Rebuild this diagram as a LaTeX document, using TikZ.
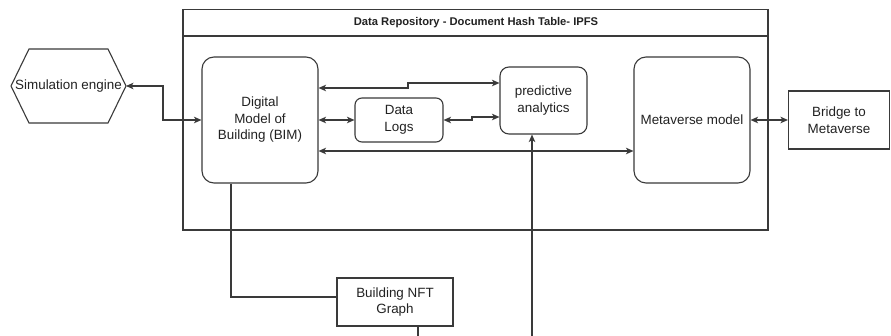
\documentclass[tikz,border=0pt]{standalone}
\usepackage{fontspec}
\setmainfont{Liberation Sans}
\usetikzlibrary{arrows.meta}
\definecolor{ln}{HTML}{3A3A3A}
\definecolor{tx}{HTML}{222222}
\tikzset{
  box/.style={draw=ln, line width=1.1pt, text=tx, align=center, inner sep=2pt,
    font=\fontsize{13.4pt}{16.5pt}\selectfont},
  rbox/.style={box, rounded corners=12pt},
  lbl/.style={text=tx, align=center, inner sep=0pt,
    font=\fontsize{13.4pt}{16.5pt}\selectfont},
  conn/.style={draw=ln, line width=1.1pt},
  both/.style={conn, {Stealth[length=7.5pt,width=6.5pt,inset=2pt]}-{Stealth[length=7.5pt,width=6.5pt,inset=2pt]}},
  one/.style={conn, -{Stealth[length=7.5pt,width=6.5pt,inset=2pt]}}
}
\begin{document}
\begin{tikzpicture}[x=1pt,y=-1pt]
\useasboundingbox[fill=white] (0,0) rectangle (891,336);

% container
\node[draw=ln, line width=1.1pt, minimum width=585pt, minimum height=220.5pt, inner sep=0pt]
  (repo) at (475.5,119.75) {};
\draw[conn] (repo.north west |- 0,36) coordinate (hdl) -- (repo.north east |- 0,36) coordinate (hdr);
\node[text=tx, inner sep=0pt, font=\fontsize{11.2pt}{13pt}\selectfont\bfseries] (title) at (476,22.5)
  {Data Repository - Document Hash Table- IPFS};

% simulation engine hexagon
\draw[draw=ln, line width=1.1pt] (11,86) -- (29,49) -- (108,49) -- (126,86) -- (108,123) -- (29,123) -- cycle;
\coordinate (simR) at (126,86);
\node[lbl] (sim) at (68.5,86) {Simulation engine};

% boxes
\node[rbox, minimum width=116pt, minimum height=126pt] (bim) at (260,120)
  {Digital\\Model of\\Building (BIM)};
\node[rbox, rounded corners=7pt, minimum width=88pt, minimum height=44pt] (logs) at (399,120)
  {Data\\Logs};
\node[rbox, rounded corners=9pt, minimum width=87pt, minimum height=67pt] (pred) at (543.5,100.5)
  {predictive\\analytics};
\node[rbox, minimum width=116pt, minimum height=126pt] (meta) at (692,120)
  {Metaverse model};
\node[box, minimum width=101pt, minimum height=58pt] (bridge) at (839,120)
  {Bridge to\\Metaverse};
\node[box, minimum width=116pt, minimum height=48pt] (nft) at (395,302)
  {Building NFT\\Graph};

% connectors
\draw[both] (simR) -- (163,86) |- (bim.west);
\draw[both] (bim.east |- 0,88) -- (408,88) -- (408,83) -- (pred.west |- 0,83);
\draw[both] (bim.east) -- (logs.west);
\draw[both] (logs.east) -- (472,120) -- (472,117) -- (pred.west |- 0,117);
\draw[both] (bim.east |- 0,151) -- (meta.west |- 0,151);
\draw[both] (meta.east) -- (bridge.west);

\coordinate (predIn) at (532,336);
\draw[one] (predIn) -- (predIn |- pred.south);

\draw[conn] (bim.south -| 231,0) -- (231,297) -- (nft.west |- 0,297);
\coordinate (nftOut) at (418,336);
\draw[conn] (nft.south -| nftOut) -- (nftOut);
\end{tikzpicture}
\end{document}
